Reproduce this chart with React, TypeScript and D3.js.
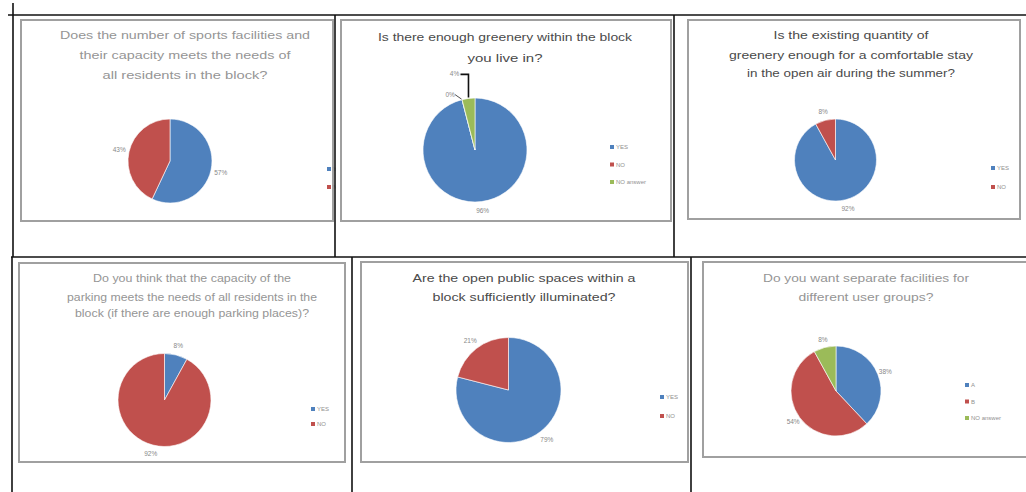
import React from "react";
import * as d3 from "d3";

// ---------- DATA ----------
const sportsTitle = ["Does the number of sports facilities and", "their capacity  meets the needs of", "all residents in the block?"];
const sportsCategories = ["YES", "NO"];
const sportsValues = [57, 43];

const greeneryTitle = ["Is there enough greenery within the block", "you live in?"];
const greeneryCategories = ["YES", "NO", "NO answer"];
const greeneryValues = [96, 0, 4];

const summerTitle = ["Is the existing quantity of", "greenery enough for a comfortable stay", "in the open air during the summer?"];
const summerCategories = ["YES", "NO"];
const summerValues = [92, 8];

const parkingTitle = ["Do you think that the capacity of the", "parking meets the needs of all residents in the", "block (if there are enough parking places)?"];
const parkingCategories = ["YES", "NO"];
const parkingValues = [8, 92];

const lightingTitle = ["Are the open public spaces within a", "block sufficiently illuminated?"];
const lightingCategories = ["YES", "NO"];
const lightingValues = [79, 21];

const groupsTitle = ["Do you want separate facilities for", "different user groups?"];
const groupsCategories = ["A", "B", "NO answer"];
const groupsValues = [38, 54, 8];

const sliceColors = ["#4f81bd", "#c0504d", "#9bbb59"];

// ---------- LAYOUT ----------
type Panel = {
  title: string[];
  cats: string[];
  vals: number[];
  cell: [number, number, number, number];
  box: [number, number, number, number];
  cx: number; cy: number; r: number;
  tx: number; ty: number[]; tl: number[];
  dark: boolean;
  lx: number; ly: number; lstep: number;
  labelR: number;
  special?: { [k: number]: { dx: number; dy: number; leader: "diag" | "bracket" } };
};

const panels: Panel[] = [
  {
    title: sportsTitle, cats: sportsCategories, vals: sportsValues,
    cell: [13, 15, 336, 257], box: [21, 20, 333, 221],
    cx: 170, cy: 161, r: 42, tx: 185, ty: [39, 59, 79], tl: [250, 211, 165], dark: false,
    lx: 329, ly: 169, lstep: 18, labelR: 10,
  },
  {
    title: greeneryTitle, cats: greeneryCategories, vals: greeneryValues,
    cell: [335, 15, 674, 257], box: [341, 20, 671, 221],
    cx: 475, cy: 150, r: 52, tx: 505, ty: [41, 62], tl: [254, 75], dark: true,
    lx: 612, ly: 147, lstep: 17.5, labelR: 9,
    special: { 1: { dx: -12, dy: -3, leader: "diag" }, 2: { dx: -14, dy: -22, leader: "bracket" } },
  },
  {
    title: summerTitle, cats: summerCategories, vals: summerValues,
    cell: [674, 15, 1026, 257], box: [688, 20, 1020, 219],
    cx: 835.5, cy: 160, r: 41, tx: 851, ty: [39, 59, 77], tl: [155, 244, 208], dark: true,
    lx: 993, ly: 168, lstep: 19, labelR: 9,
  },
  {
    title: parkingTitle, cats: parkingCategories, vals: parkingValues,
    cell: [12, 257, 352, 492], box: [19, 263, 345, 462],
    cx: 164.5, cy: 400, r: 46.5, tx: 192, ty: [282, 301, 317], tl: [198, 250, 234], dark: false,
    lx: 313, ly: 409, lstep: 15, labelR: 9,
  },
  {
    title: lightingTitle, cats: lightingCategories, vals: lightingValues,
    cell: [352, 257, 691, 492], box: [361, 262, 688, 462],
    cx: 508.5, cy: 390, r: 52.5, tx: 524, ty: [282, 301], tl: [223, 183], dark: true,
    lx: 662, ly: 397, lstep: 19, labelR: 10,
  },
  {
    title: groupsTitle, cats: groupsCategories, vals: groupsValues,
    cell: [691, 257, 1026, 492], box: [703, 262, 1030, 457],
    cx: 836, cy: 391, r: 45, tx: 866, ty: [282, 301], tl: [206, 135], dark: false,
    lx: 967, ly: 385, lstep: 16.5, labelR: 8,
  },
];

const font = "'Liberation Sans', Arial, sans-serif";

function PiePanel({ p, idx }: { p: Panel; idx: number }) {
  const pie = d3.pie<number>().sort(null).value((d) => d);
  const arcs = pie(p.vals);
  const arc = d3.arc<d3.PieArcDatum<number>>().innerRadius(0).outerRadius(p.r);
  const clipId = `clip${idx}`;
  const [cx0, cy0, cx1, cy1] = p.cell;
  const [bx0, by0, bx1, by1] = p.box;
  const titleColor = p.dark ? "#4a4a4a" : "#959595";
  return (
    <g>
      <defs>
        <clipPath id={clipId}>
          <rect x={cx0} y={cy0} width={cx1 - cx0} height={cy1 - cy0} />
        </clipPath>
      </defs>
      <g clipPath={`url(#${clipId})`}>
        <rect x={bx0} y={by0} width={bx1 - bx0} height={by1 - by0} fill="#fff" stroke="#a0a0a0" strokeWidth={2} />
        {p.title.map((line, i) => (
          <text key={i} x={p.tx} y={p.ty[i]} textAnchor="middle" fontFamily={font} fontSize={11}
            fill={titleColor} textLength={p.tl[i]} lengthAdjust="spacingAndGlyphs">{line}</text>
        ))}
        <g transform={`translate(${p.cx},${p.cy})`}>
          {arcs.map((a, i) => (
            <path key={i} d={arc(a) || ""} fill={sliceColors[i]} stroke="#fff" strokeWidth={0.6} />
          ))}
          {arcs.map((a, i) => {
            const mid = (a.startAngle + a.endAngle) / 2;
            const sp = p.special && p.special[i];
            if (sp) {
              const ex = p.r * Math.sin(mid);
              const ey = -p.r * Math.cos(mid);
              const lx = ex + sp.dx;
              const ly = ey + sp.dy;
              return (
                <g key={"l" + i}>
                  {sp.leader === "diag" ? (
                    <line x1={lx + 5} y1={ly - 2} x2={ex - 0.5} y2={ey - 0.5} stroke="#222" strokeWidth={0.8} />
                  ) : (
                    <polyline points={`${lx + 6},${ly - 2} ${ex},${ly - 2} ${ex},${ey - 1}`} fill="none" stroke="#111" strokeWidth={1.6} />
                  )}
                  <text x={lx} y={ly} textAnchor="middle" fontFamily={font} fontSize={6.5} fill="#888">{`${p.vals[i]}%`}</text>
                </g>
              );
            }
            if (p.vals[i] === 0) return null;
            const rr = p.r + p.labelR;
            return (
              <text key={"l" + i} x={rr * Math.sin(mid)} y={-rr * Math.cos(mid) + 2.2} textAnchor="middle"
                fontFamily={font} fontSize={6.5} fill="#888">{`${p.vals[i]}%`}</text>
            );
          })}
        </g>
        {p.cats.map((c, i) => (
          <g key={"lg" + i}>
            <rect x={p.lx - 2} y={p.ly + i * p.lstep - 2} width={4} height={4} fill={sliceColors[i]} />
            <text x={p.lx + 4} y={p.ly + i * p.lstep + 2} fontFamily={font} fontSize={6} fill="#909090">{c}</text>
          </g>
        ))}
      </g>
    </g>
  );
}

export default function App() {
  return (
    <svg width={1026} height={492} style={{ position: "absolute", left: 0, top: 0, background: "#fff" }}>
      <rect x={0} y={0} width={1026} height={492} fill="#fff" />
      {panels.map((p, i) => (
        <PiePanel key={i} p={p} idx={i} />
      ))}
      {/* table grid */}
      <g stroke="#111" strokeWidth={1.6}>
        <line x1={13} y1={3} x2={13} y2={257} />
        <line x1={8} y1={15} x2={1026} y2={15} />
        <line x1={335} y1={15} x2={335} y2={257} />
        <line x1={674} y1={15} x2={674} y2={257} />
        <line x1={11} y1={257} x2={1026} y2={257} />
        <line x1={12} y1={257} x2={12} y2={492} />
        <line x1={352} y1={257} x2={352} y2={492} />
        <line x1={691} y1={257} x2={691} y2={492} />
      </g>
    </svg>
  );
}
